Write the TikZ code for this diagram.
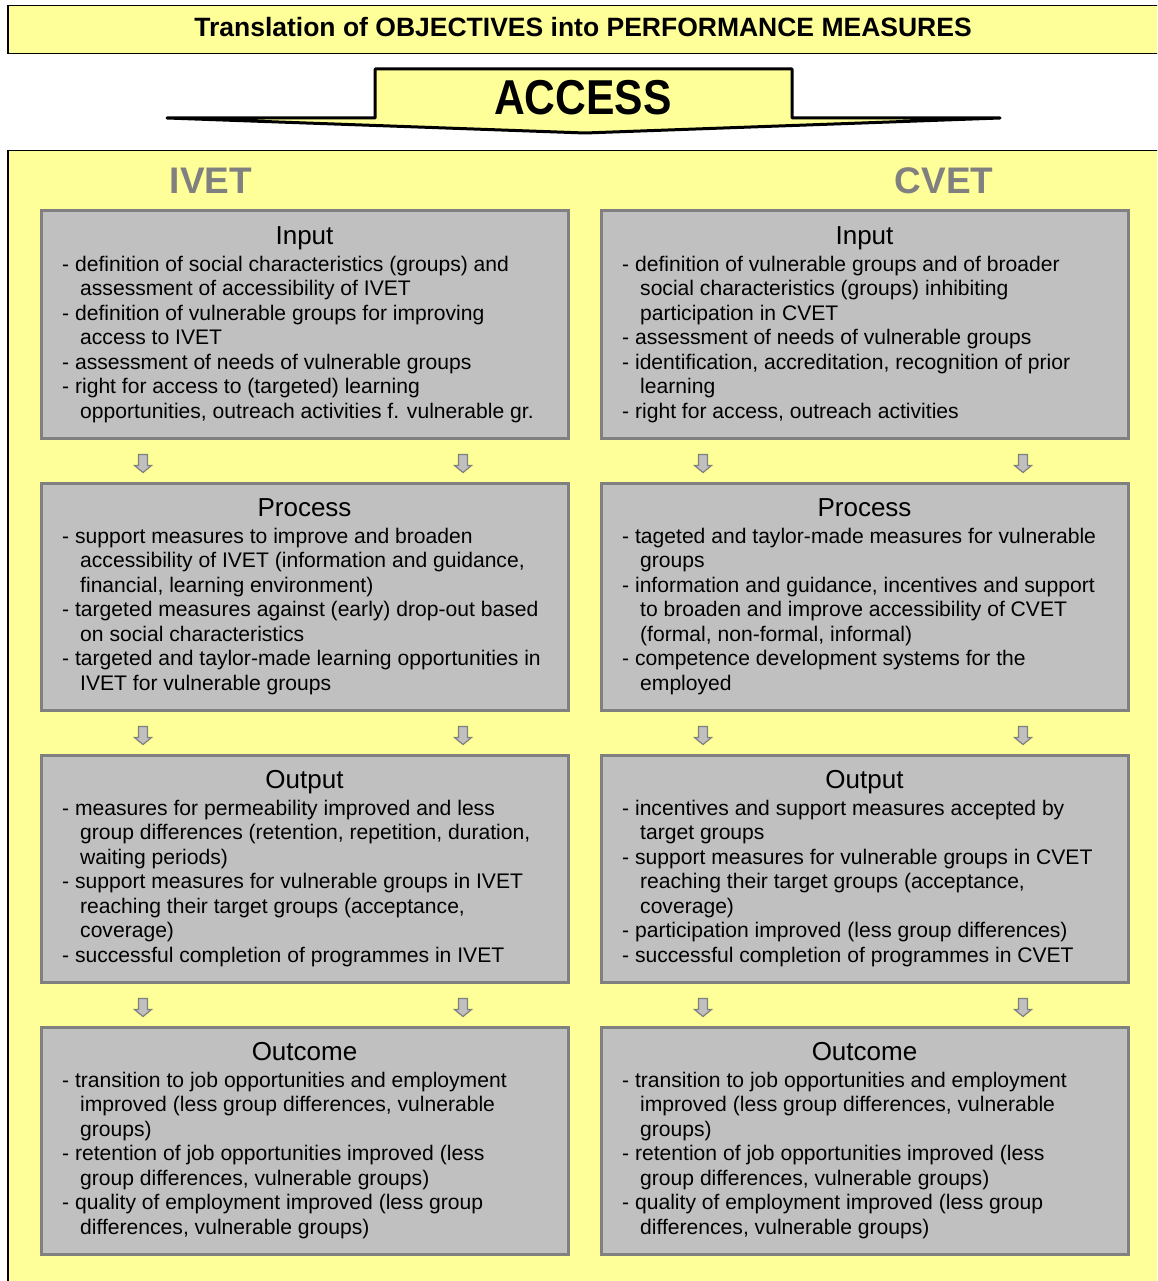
\documentclass[tikz,border=0pt]{standalone}
\usepackage{fontspec}
\setmainfont{Liberation Sans}
\usetikzlibrary{calc}
\definecolor{panelyellow}{HTML}{FFFF99}
\definecolor{boxgray}{HTML}{C0C0C0}
\definecolor{boxedge}{HTML}{808080}
\definecolor{headgray}{HTML}{808080}
\newcommand\contl{\\\hspace*{18pt}}
\newcommand\bodytext[1]{\parbox[t]{520pt}{\fontsize{21.1}{24.5}\selectfont #1}}
\begin{document}
\begin{tikzpicture}[x=1pt,y=-1pt,
  gbox/.style={draw=boxedge, fill=boxgray, line width=3pt, minimum width=527pt, minimum height=227pt, anchor=north west, inner sep=0pt},
  heading/.style={font=\fontsize{26}{30}\selectfont, anchor=base, inner sep=0pt},
  body/.style={anchor=base west, inner sep=0pt},
  colhead/.style={font=\fontsize{37}{40}\selectfont\bfseries, text=headgray, inner sep=0pt},
  sarrow/.style={fill=boxgray, draw=boxedge, line width=1.2pt, line join=miter}]
\clip (0,0) rectangle (1157,1281);
\useasboundingbox (0,0) rectangle (1157,1281);
\fill[white] (0,0) rectangle (1157,1281);

% header
\node[draw=black, line width=1.5pt, fill=panelyellow, minimum width=1153pt, minimum height=48pt, anchor=north west, inner sep=0pt] (header) at (7,5) {};
\node[font=\fontsize{26.5}{30}\selectfont\bfseries, inner sep=0pt] (title) at (583,27) {Translation of OBJECTIVES into PERFORMANCE MEASURES};

% main panel
\node[draw=black, line width=1.5pt, fill=panelyellow, minimum width=1153pt, minimum height=1150pt, anchor=north west, inner sep=0pt] (panel) at (7,150) {};

% big arrow
\draw[line width=3pt, fill=panelyellow, line join=round] (375,69) -- (792,69) -- (792,118) -- (1000,118) -- (585,133) -- (167,118) -- (375,118) -- cycle;
\node[inner sep=0pt] (access) at (583,98) {\scalebox{0.87}[1]{\fontsize{49}{52}\selectfont\bfseries ACCESS}};

% column heads
\node[colhead] (ivet) at (211,181) {IVET};
\node[colhead] (cvet) at (944,181) {CVET};

% boxes
\foreach \nm/\x in {L/39.5, R/599.5} {
  \node[gbox] (\nm in) at (\x,209.5) {};
  \node[gbox] (\nm pr) at (\x,481.5) {};
  \node[gbox] (\nm ou) at (\x,753.5) {};
  \node[gbox] (\nm oc) at (\x,1025.5) {};
}

% headings
\foreach \nm in {L,R} {
  \node[heading] at ($(\nm in.north)+(0,34.5)$) {Input};
  \node[heading] at ($(\nm pr.north)+(0,34.5)$) {Process};
  \node[heading] at ($(\nm ou.north)+(0,34.5)$) {Output};
  \node[heading] at ($(\nm oc.north)+(0,34.5)$) {Outcome};
}

% body texts
\node[body] (Lintext) at ($(Lin.north west)+(22.5,61.5)$) {\bodytext{%
- definition of social characteristics (groups) and\contl assessment of accessibility of IVET\\
- definition of vulnerable groups for improving\contl access to IVET\\
- assessment of needs of vulnerable groups\\
- right for access to (targeted) learning\contl opportunities, outreach activities f. vulnerable gr.}};
\node[body] (Rintext) at ($(Rin.north west)+(22.5,61.5)$) {\bodytext{%
- definition of vulnerable groups and of broader\contl social characteristics (groups) inhibiting\contl participation in CVET\\
- assessment of needs of vulnerable groups\\
- identification, accreditation, recognition of prior\contl learning\\
- right for access, outreach activities}};
\node[body] (Lprtext) at ($(Lpr.north west)+(22.5,61.5)$) {\bodytext{%
- support measures to improve and broaden\contl accessibility of IVET (information and guidance,\contl financial, learning environment)\\
- targeted measures against (early) drop-out based\contl on social characteristics\\
- targeted and taylor-made learning opportunities in\contl IVET for vulnerable groups}};
\node[body] (Rprtext) at ($(Rpr.north west)+(22.5,61.5)$) {\bodytext{%
- tageted and taylor-made measures for vulnerable\contl groups\\
- information and guidance, incentives and support\contl to broaden and improve accessibility of CVET\contl (formal, non-formal, informal)\\
- competence development systems for the\contl employed}};
\node[body] (Loutext) at ($(Lou.north west)+(22.5,61.5)$) {\bodytext{%
- measures for permeability improved and less\contl group differences (retention, repetition, duration,\contl waiting periods)\\
- support measures for vulnerable groups in IVET\contl reaching their target groups (acceptance,\contl coverage)\\
- successful completion of programmes in IVET}};
\node[body] (Routext) at ($(Rou.north west)+(22.5,61.5)$) {\bodytext{%
- incentives and support measures accepted by\contl target groups\\
- support measures for vulnerable groups in CVET\contl reaching their target groups (acceptance,\contl coverage)\\
- participation improved (less group differences)\\
- successful completion of programmes in CVET}};
\foreach \nm in {L,R} {
\node[body] (\nm octext) at ($(\nm oc.north west)+(22.5,61.5)$) {\bodytext{%
- transition to job opportunities and employment\contl improved (less group differences, vulnerable\contl groups)\\
- retention of job opportunities improved (less\contl group differences, vulnerable groups)\\
- quality of employment improved (less group\contl differences, vulnerable groups)}};
}

% small arrows between boxes
\foreach \nm in {L,R} {
  \foreach \bx in {in,pr,ou} {
    \foreach \dx in {103.5,423.5} {
      \path[sarrow] ($(\nm\bx.south west)+(\dx,15)$) ++(-4.5,0) -- ++(9,0) -- ++(0,11) -- ++(4,0) -- ++(-8.5,7) -- ++(-8.5,-7) -- ++(4,0) -- cycle;
    }
  }
}
\end{tikzpicture}
\end{document}
